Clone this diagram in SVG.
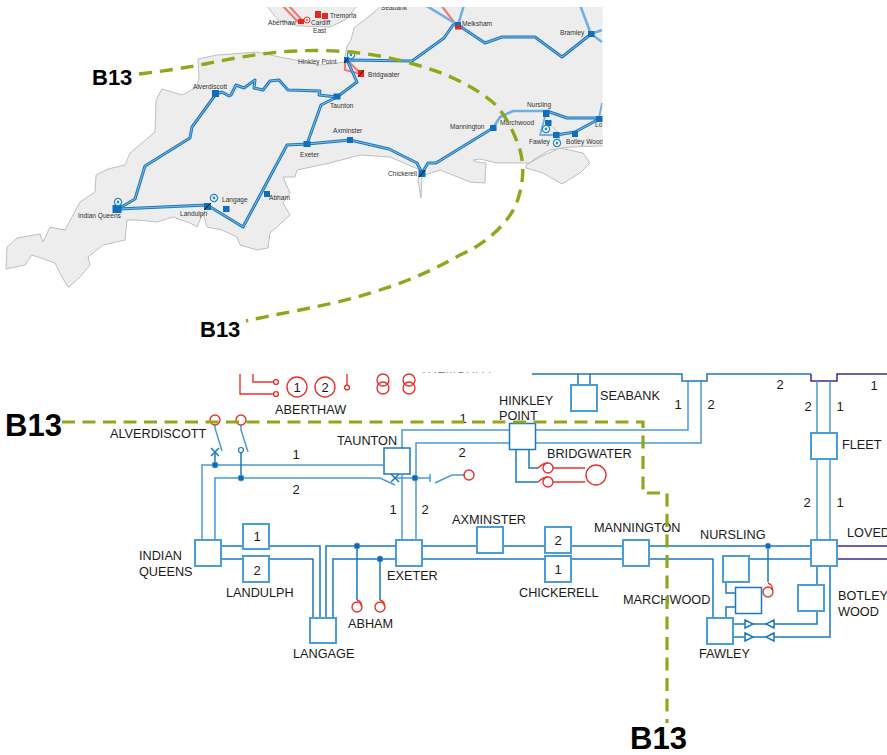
<svg xmlns="http://www.w3.org/2000/svg" width="887" height="755" viewBox="0 0 887 755">
<style>
text{font-family:"Liberation Sans",Arial,sans-serif;fill:#1a1a1a}
.m{font-size:6.600px;fill:#333}
.l{font-size:12.700px}
.n{font-size:13px;text-anchor:middle}
.t{font-size:22px;font-weight:bold;fill:#000}
.T{font-size:31px;font-weight:bold;fill:#000}
.land{fill:#ededed;stroke:#b0b0b0;stroke-width:.8;stroke-linejoin:round}
.o{fill:none;stroke:#1c78bf;stroke-width:3;stroke-linejoin:round}
.i{fill:none;stroke:#9ccbee;stroke-width:.8;stroke-linejoin:round}
.li{fill:none;stroke:#6fb0e2;stroke-width:2.6;stroke-linejoin:round}
.r2{fill:none;stroke:#f27a72;stroke-width:2.200}
.s{fill:#0f6fbd}
.rs{fill:#e4281f}
.d{stroke:#111;stroke-width:1}
.w{fill:none;stroke:#1b78bd;stroke-width:1.500;stroke-linejoin:miter}
.lb{fill:none;stroke:#4a9ad6;stroke-width:1.500}
.p{fill:none;stroke:#3d2a8c;stroke-width:1.500}
.box{fill:#fff;stroke:#4a9dd8;stroke-width:2}
.box2{fill:#fff;stroke:#1b78bd;stroke-width:1.500}
.red{fill:none;stroke:#e8332c;stroke-width:1.400}
.dot{fill:#1467ae;stroke:#4a9ad6;stroke-width:1}
.gd{fill:none;stroke:#8fa71a;stroke-width:3.400;stroke-dasharray:13 8}
.gd2{fill:none;stroke:#8fa71a;stroke-width:3.200;stroke-dasharray:13 7.500}
</style>
<defs>
<clipPath id="mapclip"><rect x="0" y="7" width="602.500" height="310"/></clipPath>
<clipPath id="lowclip"><rect x="0" y="372.500" width="887" height="382"/></clipPath>
<g id="gen"><circle r="3.600" fill="#fff" stroke="#2a88cc" stroke-width="1.300"/><circle r="1.400" fill="#2a88cc"/></g>
</defs>

<g id="map" clip-path="url(#mapclip)">
<path class="land" d="M266,5 L278,20 L298,26 L330,27 L345,20 L358,5 Z"/>
<path class="land" d="M382,5 L372,14 L354,28 L351,40 L347,46 L345,56 L345,62 L320,65 L300,61 L280,57 L257,52 L217,55 L198,59 L199,78 L197,87 L182,95 L162,89 L156,100 L155,132 L143,142 L130,153 L125,165 L108,169 L96,175 L95,192 L80,202 L65,230 L50,227 L43,242 L40,234 L17,238 L7,247 L6,269 L25,265 L32,255 L55,263 L62,277 L68,287 L69,287 L80,277 L90,265 L88,257 L103,245 L125,240 L127,220 L137,220 L157,222 L173,217 L190,223 L197,227 L203,213 L207,227 L222,230 L237,237 L240,245 L257,250 L268,248 L270,233 L277,227 L290,215 L283,203 L290,193 L283,177 L295,177 L297,170 L330,163 L360,155 L390,157 L420,170 L418,180 L421,198 L422,176 L440,170 L470,182 L485,183 L486,163 L477,162 L473,160 L480,159 L497,163 L530,163 L533,160 L550,150 L570,147 L600,146 L610,146 L610,5 Z"/>
<path class="land" d="M526,165 L540,157 L560,148 L583,153 L590,163 L580,173 L562,184 L543,173 L526,168 Z"/>
<path d="M553,127 L560,135 L558,145" fill="none" stroke="#b0b0b0" stroke-width=".8"/>

<g id="map-lines">
<path class="r2" d="M282,5 L298,22 M288,5 L302,20 M441,5 L457,26 M345,62 L345,70 L361,74 M347,60 L361,74"/>
<path class="li" d="M425,5 L458,25 M464,5 L458,25"/>
<path class="li" d="M580,5 L591,34 L602,30 M591,34 L602,42"/>
<path class="o" d="M118,209 L135,199 L145,166 L190,138 L192,127 L216,94 L222,92 L229,96 L231,95 L236,85 L244,88 L255,80 L254,88 L263,90 L270,81 L279,80 L288,90 L320,91 L319,95 L337,97"/>
<path class="i" d="M118,209 L135,199 L145,166 L190,138 L192,127 L216,94 L222,92 L229,96 L231,95 L236,85 L244,88 L255,80 L254,88 L263,90 L270,81 L279,80 L288,90 L320,91 L319,95 L337,97"/>
<path class="o" d="M337,97 L357,82 L347,60 L412,61 L444,38 L453,25 L458,25 L485,43 L502,37 L535,37 L562,57 L591,34"/>
<path class="i" d="M337,97 L357,82 L347,60 L412,61 L444,38 L453,25 L458,25 L485,43 L502,37 L535,37 L562,57 L591,34"/>
<path class="o" d="M337,97 L321,105 L307,144 L350,140 L389,149 L417,163 L422,173 L428,163 L436,163 L493,128"/>
<path class="i" d="M337,97 L321,105 L307,144 L350,140 L389,149 L417,163 L422,173 L428,163 L436,163 L493,128"/>
<path class="o" d="M307,144 L287,145 L243,227 L207,205 L118,209"/>
<path class="i" d="M307,144 L287,145 L243,227 L207,205 L118,209"/>
<path class="li" d="M493,128 L500,117 L513,111 L547,111"/>
<path class="o" d="M547,111 L567,118 L599,118 M556,135 L575,132 L599,119"/>
<path class="i" d="M547,111 L567,118 L599,118 M556,135 L575,132 L599,119"/>
<path class="li" d="M599,118 L602,103 M546,113 L540,135 L556,135" style="stroke-width:1.800"/>
</g>

<g id="map-stations">
<rect class="s" x="112.500" y="205" width="9" height="8"/>
<rect class="s" x="212" y="90" width="7" height="7"/>
<rect class="s" x="333.500" y="93.500" width="7" height="6"/>
<rect class="s" x="303.500" y="141" width="7" height="6"/>
<rect class="s" x="347" y="137" width="6" height="6"/>
<rect class="s" x="418.500" y="170" width="7" height="7"/><path class="d" d="M419,177 L425,170"/>
<rect class="s" x="490" y="125" width="6.500" height="6"/>
<rect class="s" x="543" y="110" width="6.500" height="7"/>
<rect class="s" x="545" y="120" width="6.500" height="6"/>
<rect class="s" x="553" y="132" width="6.500" height="6"/>
<rect class="s" x="572" y="131" width="6" height="6"/>
<rect class="s" x="596" y="116" width="7" height="6"/>
<rect class="s" x="588" y="31" width="6.500" height="6"/>
<rect class="s" x="455" y="22" width="6" height="5"/>
<rect class="rs" x="455" y="25.500" width="6.500" height="4"/>
<rect class="s" x="344" y="57" width="5" height="6"/><path class="d" d="M344,63 L349,57"/>
<rect class="rs" x="358" y="70" width="6" height="7"/><path class="d" d="M358,77 L364,70"/>
<rect class="s" x="204" y="203" width="7" height="7"/><path class="d" d="M204,210 L211,203"/>
<rect class="s" x="223" y="206" width="6.500" height="6"/>
<rect class="s" x="264" y="191" width="6" height="6"/>
<rect class="rs" x="298" y="19" width="6" height="5"/>
<rect class="rs" x="315" y="11" width="6" height="7"/>
<rect class="rs" x="322" y="13" width="6" height="6"/>
<use href="#gen" x="351" y="55"/><use href="#gen" x="118" y="202"/><use href="#gen" x="214" y="198"/>
<use href="#gen" x="546" y="129"/><use href="#gen" x="557" y="143"/>
<g transform="translate(307,20)"><circle r="3" fill="#fff" stroke="#e8332c"/><circle r="1" fill="#e8332c"/></g>
</g>

<g id="map-labels">
<text class="m" x="268" y="25">Aberthaw</text>
<text class="m" x="311" y="25">Cardiff</text>
<text class="m" x="313" y="33">East</text>
<text class="m" x="330" y="18">Tremorfa</text>
<text class="m" x="381" y="10">Seabank</text>
<text class="m" x="462" y="26">Melksham</text>
<text class="m" x="560" y="35">Bramley</text>
<text class="m" x="298" y="64">Hinkley Point</text>
<text class="m" x="368" y="77">Bridgwater</text>
<text class="m" x="193" y="89">Alverdiscott</text>
<text class="m" x="330" y="108">Taunton</text>
<text class="m" x="333" y="133">Axminster</text>
<text class="m" x="300" y="157">Exeter</text>
<text class="m" x="388" y="176">Chickerell</text>
<text class="m" x="450" y="129">Mannington</text>
<text class="m" x="500" y="125">Marchwood</text>
<text class="m" x="527" y="107">Nursling</text>
<text class="m" x="529" y="144">Fawley</text>
<text class="m" x="566" y="144">Botley Wood</text>
<text class="m" x="595" y="127">Lo</text>
<text class="m" x="78" y="218">Indian Queens</text>
<text class="m" x="180" y="216">Landulph</text>
<text class="m" x="222" y="202">Langage</text>
<text class="m" x="269" y="200">Abham</text>
</g>
</g>

<g id="connectors">
<path class="lb" d="M202,540 V465 H383 M215,540 V478 H380 L395,485"/>
<path class="w" d="M215,465 V452 M241,478 V453"/>
<path class="lb" d="M215,425 V428 L222,451 M241,425 V430 L248,452 M395,478 H415 L430,478 M430,474 V482 M435,483 L452,475 H463"/>
<path class="w" d="M211,448 L219,456 M219,448 L211,456 M391,474 L399,482 M399,474 L391,482"/>
<path class="lb" d="M402,448 V430 H509 M402,475 V540 M416,540 V443 H509"/>
<path class="lb" d="M536,430 H688 V381 M536,443 H701 V381"/>
<path class="w" d="M532,374 H682 V381 H707 V374 H811"/>
<path class="p" d="M811,374 V381 H837 V374 H887 M837,546 H887 M837,559 H887"/>
<path class="w" d="M578,374 V385 M590,374 V385"/>
<path class="lb" d="M817,381 V433 M830,381 V433 M817,459 V540 M830,459 V540"/>
<path class="w" d="M516,449 V482 H538 M529,449 V468 H538"/>
<path class="w" d="M221,546 H243 M221,559 H243 M269,546 H320 V618 M269,559 H313 V618"/>
<path class="w" d="M326,618 V546 H396 M333,618 V559 H396"/>
<path class="w" d="M357,546 V600 M380,559 V600"/>
<path class="w" d="M422,546 H477 M503,546 H545 M571,546 H623 M649,546 H811 M422,559 H545 M571,559 H623 M649,559 H713 V618 M749,559 H811"/>
<path class="w" d="M768,546 V582"/>
<path class="w" d="M726,582 V593 H735 M726,618 V607 H735 M817,566 V585 M830,566 V637 H733 M817,611 V624 H733"/>
<path class="w" style="fill:#fff" d="M745,620 L753,624 L745,628 Z M745,633 L753,637 L745,641 Z M774,620 L766,624 L774,628 Z M774,633 L766,637 L774,641 Z"/>
</g>

<g id="redparts">
<path class="red" d="M240,374 V394 H273 M253,374 V382 H273 M347,374 V385"/>
<circle class="red" cx="276" cy="382" r="2.400"/><circle class="red" cx="276" cy="394" r="2.400"/>
<circle class="red" cx="347" cy="387.500" r="2.400"/>
<circle class="red" cx="297" cy="387" r="10"/><circle class="red" cx="325" cy="387" r="10"/>
<circle class="red" cx="383" cy="380" r="6"/><circle class="red" cx="383" cy="388" r="6"/>
<circle class="red" cx="409" cy="380" r="6"/><circle class="red" cx="409" cy="388" r="6"/>
<circle class="red" cx="215" cy="420" r="5"/><circle class="red" cx="241" cy="420" r="5"/>
<circle class="red" cx="469" cy="475" r="5"/>
<path class="red" d="M463,475 H465 M538,468 C541,465 544,463 548,463 M538,482 C541,479 544,477 548,477 M553,468 H585 M553,482 H585"/>
<circle class="red" cx="548" cy="468" r="5"/><circle class="red" cx="548" cy="482" r="5"/>
<circle class="red" cx="596" cy="475" r="10"/>
<path class="red" d="M357,600 C360,601 362,603 361,606 M380,600 C383,601 385,603 384,606 M768,583 C771,584 773,587 772,590"/>
<circle class="red" cx="357" cy="607" r="5"/><circle class="red" cx="380" cy="607" r="5"/><circle class="red" cx="768" cy="592" r="5"/>
</g>

<g id="junctions">
<circle class="dot" cx="215" cy="465" r="3"/><circle class="dot" cx="241" cy="478" r="3"/><circle class="dot" cx="415" cy="478" r="3"/>
<circle class="dot" cx="357" cy="546" r="3"/><circle class="dot" cx="380" cy="559" r="3"/><circle class="dot" cx="768" cy="546" r="2.800"/>
<circle cx="241" cy="450" r="2.500" fill="#fff" stroke="#1b78bd" stroke-width="1.200"/>
</g>

<g id="node-indian-queens"><rect class="box" x="195" y="540" width="26" height="26"/><text class="l" x="139" y="560">INDIAN</text><text class="l" x="139" y="576">QUEENS</text></g>
<g id="node-landulph-1"><rect class="box" x="243" y="524" width="26" height="25"/><text class="n" x="257" y="541">1</text></g>
<g id="node-landulph-2"><rect class="box" x="243" y="556" width="26" height="26"/><text class="n" x="257" y="575">2</text><text class="l" x="226" y="597">LANDULPH</text></g>
<g id="node-langage"><rect class="box" x="310" y="618" width="26" height="25"/><text class="l" x="293" y="658">LANGAGE</text></g>
<g id="node-abham"><text class="l" x="348" y="628">ABHAM</text></g>
<g id="node-exeter"><rect class="box" x="396" y="540" width="26" height="26"/><text class="l" x="387" y="580">EXETER</text></g>
<g id="node-taunton"><rect class="box2" x="384" y="448" width="26" height="26"/><text class="l" x="337" y="445">TAUNTON</text></g>
<g id="node-alverdiscott"><text class="l" x="110" y="438">ALVERDISCOTT</text></g>
<g id="node-aberthaw"><text class="n" x="297" y="392">1</text><text class="n" x="325" y="392">2</text><text class="l" x="275" y="414">ABERTHAW</text></g>
<g id="node-tremorfa" clip-path="url(#lowclip)"><text class="l" x="420" y="373">TREMORFA</text></g>
<g id="node-hinkley"><rect class="box2" x="509.500" y="423.500" width="26" height="26"/><text class="l" x="499" y="405">HINKLEY</text><text class="l" x="499" y="420">POINT</text></g>
<g id="node-bridgwater"><text class="l" x="547" y="458">BRIDGWATER</text></g>
<g id="node-seabank"><rect class="box" x="571" y="385" width="26" height="26"/><text class="l" x="600" y="400">SEABANK</text></g>
<g id="node-axminster"><rect class="box" x="477" y="527" width="26" height="26"/><text class="l" x="452" y="524">AXMINSTER</text></g>
<g id="node-chickerell-2"><rect class="box" x="545" y="527" width="26" height="26"/><text class="n" x="558" y="545">2</text></g>
<g id="node-chickerell-1"><rect class="box" x="545" y="556" width="26" height="26"/><text class="n" x="558" y="574">1</text><text class="l" x="519" y="597">CHICKERELL</text></g>
<g id="node-mannington"><rect class="box" x="623" y="540" width="26" height="26"/><text class="l" x="594" y="532">MANNINGTON</text></g>
<g id="node-marchwood"><text class="l" x="623" y="604">MARCHWOOD</text></g>
<g id="node-nursling"><rect class="box" x="723" y="556" width="26" height="26"/><text class="l" x="700" y="539">NURSLING</text></g>
<g id="node-marchwood-box"><rect class="box2" x="735.500" y="587.500" width="26" height="26"/></g>
<g id="node-fawley"><rect class="box" x="707" y="618" width="26" height="26"/><text class="l" x="699" y="658">FAWLEY</text></g>
<g id="node-botley"><rect class="box" x="798" y="585" width="26" height="26"/><text class="l" x="838" y="600">BOTLEY</text><text class="l" x="838" y="616">WOOD</text></g>
<g id="node-fleet"><rect class="box" x="811" y="433" width="26" height="26"/><text class="l" x="842" y="449">FLEET</text></g>
<g id="node-lovedean"><rect class="box" x="811" y="540" width="26" height="26"/><text class="l" x="847" y="537">LOVED</text></g>
<g id="line-numbers">
<text class="n" x="296" y="459">1</text><text class="n" x="296" y="494">2</text>
<text class="n" x="393" y="514">1</text><text class="n" x="425" y="514">2</text>
<text class="n" x="463" y="423">1</text><text class="n" x="462" y="457">2</text>
<text class="n" x="678" y="409">1</text><text class="n" x="711" y="409">2</text>
<text class="n" x="780" y="389">2</text><text class="n" x="874" y="390">1</text>
<text class="n" x="808" y="411">2</text><text class="n" x="840" y="411">1</text>
<text class="n" x="807" y="507">2</text><text class="n" x="840" y="507">1</text>
</g>

<g id="section-lines">
<path class="gd" d="M139,74 C165,71 190,67 205,64 C235,58 265,52 297,51 C335,49 375,53 410,63 C428,68 440,72 453,78 C470,86 480,92 490,100 C505,111 515,135 520,150 C524,165 524,180 518,199 C510,225 480,247 460,255 C430,272 405,282 380,290 C350,300 325,305 300,310 C280,314 262,317 246,321"/>
<path class="gd2" d="M62,422 H643 V493 H667 V723"/>
<text class="t" x="92" y="85">B13</text>
<text class="t" x="200" y="337">B13</text>
<text class="T" x="5" y="436">B13</text>
<text class="T" x="630" y="749">B13</text>
</g>
</svg>
